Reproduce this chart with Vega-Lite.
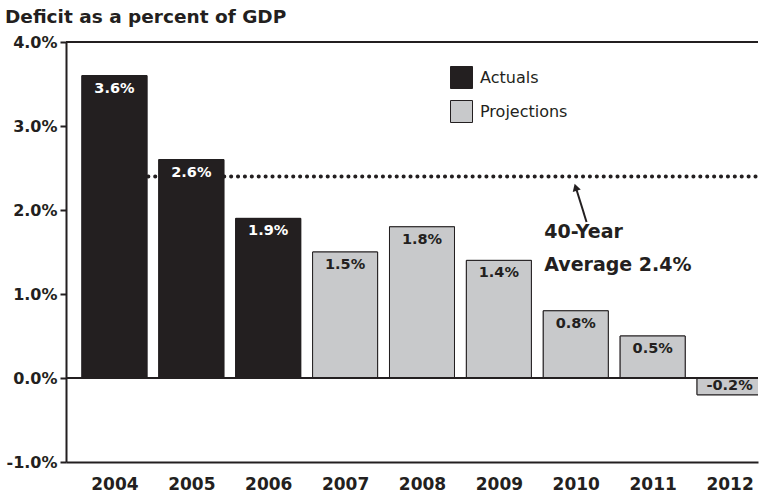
{
  "$schema": "https://vega.github.io/schema/vega-lite/v6.json",
  "width": 692,
  "height": 420,
  "autosize": "none",
  "padding": {"left": 66, "top": 42, "right": 1, "bottom": 36},
  "background": "white",
  "config": {
    "view": {"stroke": null},
    "font": "DejaVu Sans",
    "text": {"font": "DejaVu Sans"}
  },
  "title": {
    "text": "Deficit as a percent of GDP",
    "anchor": "start",
    "frame": "group",
    "dx": -61,
    "offset": 8,
    "font": "DejaVu Sans",
    "fontSize": 18.5,
    "fontWeight": "bold",
    "color": "#231f20"
  },
  "datasets": {
    "deficit": [
      {"year": 2004, "value": 3.6, "type": "Actuals"},
      {"year": 2005, "value": 2.6, "type": "Actuals"},
      {"year": 2006, "value": 1.9, "type": "Actuals"},
      {"year": 2007, "value": 1.5, "type": "Projections"},
      {"year": 2008, "value": 1.8, "type": "Projections"},
      {"year": 2009, "value": 1.4, "type": "Projections"},
      {"year": 2010, "value": 0.8, "type": "Projections"},
      {"year": 2011, "value": 0.5, "type": "Projections"},
      {"year": 2012, "value": -0.2, "type": "Projections"}
    ]
  },
  "layer": [
    {
      "data": {"name": "deficit"},
      "mark": {"type": "bar", "size": 65, "stroke": "#231f20", "strokeWidth": 1, "clip": true},
      "encoding": {
        "x": {
          "field": "year",
          "type": "quantitative",
          "scale": {"domain": [2003.37, 2012.37], "nice": false, "zero": false, "padding": 0},
          "axis": {
            "values": [2004, 2005, 2006, 2007, 2008, 2009, 2010, 2011, 2012],
            "format": "d",
            "title": null,
            "grid": false,
            "ticks": false,
            "domain": true,
            "domainColor": "#231f20",
            "domainWidth": 2,
            "labelFont": "DejaVu Sans",
            "labelFontSize": 17,
            "labelFontWeight": "bold",
            "labelColor": "#231f20",
            "labelPadding": 14,
            "labelFlush": false
          }
        },
        "y": {
          "field": "value",
          "type": "quantitative",
          "scale": {"domain": [-1, 4], "nice": false},
          "axis": {
            "values": [-1, 0, 1, 2, 3, 4],
            "labelExpr": "replace(format(datum.value, '.1f'), '\u2212', '-') + '%'",
            "title": null,
            "grid": false,
            "domainColor": "#231f20",
            "domainWidth": 2,
            "tickColor": "#231f20",
            "tickWidth": 2,
            "tickSize": 6,
            "labelFont": "DejaVu Sans",
            "labelFontSize": 16,
            "labelFontWeight": "bold",
            "labelColor": "#231f20",
            "labelPadding": 3
          }
        },
        "color": {
          "field": "type",
          "type": "nominal",
          "scale": {"domain": ["Actuals", "Projections"], "range": ["#231f20", "#c8c9cb"]},
          "legend": {
            "title": null,
            "orient": "none",
            "legendX": 384,
            "legendY": 24,
            "symbolType": "square",
            "symbolSize": 484,
            "symbolStrokeColor": "#231f20",
            "symbolStrokeWidth": 1,
            "symbolOpacity": 1,
            "labelFont": "DejaVu Sans",
            "labelFontSize": 16,
            "labelColor": "#231f20",
            "labelOffset": 7,
            "rowPadding": 7
          }
        }
      }
    },
    {
      "data": {"values": [{"average": 2.4}]},
      "mark": {"type": "rule", "color": "#231f20", "strokeWidth": 4, "strokeDash": [0.1, 6.8], "strokeCap": "round", "clip": true},
      "encoding": {
        "x": {"datum": 2004.44, "type": "quantitative"},
        "x2": {"datum": 2012.37},
        "y": {"field": "average", "type": "quantitative"}
      }
    },
    {
      "data": {"name": "deficit"},
      "mark": {"type": "bar", "size": 65, "stroke": "#231f20", "strokeWidth": 1, "clip": true},
      "encoding": {
        "x": {"field": "year", "type": "quantitative"},
        "y": {"field": "value", "type": "quantitative"},
        "color": {"field": "type", "type": "nominal"}
      }
    },
    {
      "data": {"values": [{"level": 4}, {"level": 0}]},
      "mark": {"type": "rule", "color": "#231f20", "strokeWidth": 2},
      "encoding": {"y": {"field": "level", "type": "quantitative"}}
    },
    {
      "data": {"name": "deficit"},
      "transform": [
        {"filter": "datum.value >= 0"},
        {"calculate": "format(datum.value, '.1f') + '%'", "as": "label"}
      ],
      "mark": {"type": "text", "font": "DejaVu Sans", "fontSize": 14.5, "fontWeight": "bold", "baseline": "middle", "dy": 13},
      "encoding": {
        "x": {"field": "year", "type": "quantitative"},
        "y": {"field": "value", "type": "quantitative"},
        "text": {"field": "label", "type": "nominal"},
        "color": {"condition": {"test": "datum.type === 'Actuals'", "value": "white"}, "value": "#231f20"}
      }
    },
    {
      "data": {"name": "deficit"},
      "transform": [
        {"filter": "datum.value < 0"},
        {"calculate": "'-' + format(-datum.value, '.1f') + '%'", "as": "label"}
      ],
      "mark": {"type": "text", "font": "DejaVu Sans", "fontSize": 14.5, "fontWeight": "bold", "baseline": "middle", "dy": -9, "color": "#231f20"},
      "encoding": {
        "x": {"field": "year", "type": "quantitative"},
        "y": {"field": "value", "type": "quantitative"},
        "text": {"field": "label", "type": "nominal"}
      }
    },
    {
      "data": {"values": [{"tx": 2009.59, "ty": 1.74}]},
      "mark": {"type": "text", "font": "DejaVu Sans", "fontSize": 19, "fontWeight": "bold", "align": "left", "baseline": "middle", "lineHeight": 33, "color": "#231f20", "text": ["40-Year", "Average 2.4%"]},
      "encoding": {
        "x": {"field": "tx", "type": "quantitative"},
        "y": {"field": "ty", "type": "quantitative"}
      }
    },
    {
      "data": {"values": [{"x1": 2010.14, "y1": 1.857, "x2": 2010.0, "y2": 2.27}]},
      "mark": {"type": "rule", "color": "#231f20", "strokeWidth": 2},
      "encoding": {
        "x": {"field": "x1", "type": "quantitative"},
        "y": {"field": "y1", "type": "quantitative"},
        "x2": {"field": "x2"},
        "y2": {"field": "y2"}
      }
    },
    {
      "data": {"values": [{"hx": 2009.999, "hy": 2.27}]},
      "mark": {"type": "point", "shape": "triangle-up", "filled": true, "color": "#231f20", "size": 70, "angle": -17, "opacity": 1},
      "encoding": {
        "x": {"field": "hx", "type": "quantitative"},
        "y": {"field": "hy", "type": "quantitative"}
      }
    }
  ]
}
